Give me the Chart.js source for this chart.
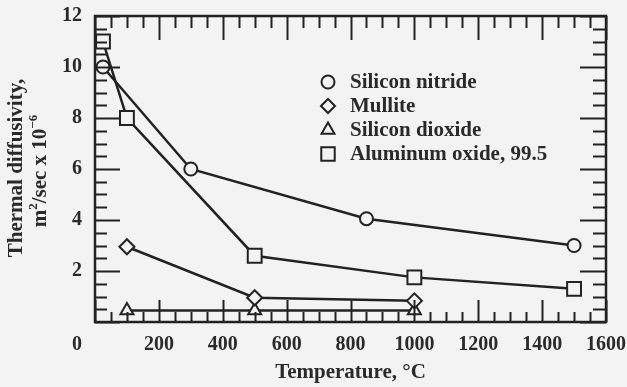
<!DOCTYPE html>
<html><head><meta charset="utf-8">
<script src="https://cdn.jsdelivr.net/npm/chart.js@4.4.1/dist/chart.umd.min.js"></script>
<style>html,body{margin:0;padding:0;background:#f3f3f3;}canvas{display:block}</style>
</head><body>
<canvas id="c" width="627" height="387"></canvas>
<script>
const seriesNames = ['Silicon nitride', 'Mullite', 'Silicon dioxide', 'Aluminum oxide, 99.5'];
const nitrideX = [25, 300, 850, 1500];
const nitrideY = [10, 6, 4.05, 3.0];
const mulliteX = [100, 500, 1000];
const mulliteY = [2.95, 0.95, 0.83];
const silicaX = [100, 500, 1000];
const silicaY = [0.45, 0.45, 0.45];
const aluminaX = [25, 100, 500, 1000, 1500];
const aluminaY = [11, 8, 2.6, 1.75, 1.3];
const xTicks = [0, 200, 400, 600, 800, 1000, 1200, 1400, 1600];
const yTicks = [0, 2, 4, 6, 8, 10, 12];
const xMinorStep = 50;
const yMinorStep = 0.5;

const BG = '#f3f3f3';
const INK = '#222222';
const TXT = '#2a2a2a';
const SERIF = '"Liberation Serif", "Times New Roman", serif';

function pts(xs, ys) { return xs.map((x, i) => ({x: x, y: ys[i]})); }
function ds(label, xs, ys, style, radius) {
  return {
    label: label, data: pts(xs, ys), pointStyle: style, pointRadius: radius,
    borderColor: INK, backgroundColor: BG, pointBackgroundColor: BG,
    pointBorderColor: INK, borderWidth: 2.5, pointBorderWidth: 2, tension: 0
  };
}

const framePlugin = {
  id: 'frame',
  beforeDraw(chart) {
    const {ctx} = chart;
    ctx.save();
    ctx.fillStyle = BG;
    ctx.fillRect(0, 0, chart.width, chart.height);
    ctx.restore();
  },
  afterDatasetsDraw(chart) {
    const {ctx, chartArea: a, scales: {x, y}} = chart;
    ctx.save();
    ctx.strokeStyle = INK;
    ctx.lineWidth = 2;
    ctx.beginPath();
    for (let v = 0; v <= 1600 + 1e-6; v += xMinorStep) {
      const px = Math.round(x.getPixelForValue(v)) + 0.5;
      const major = xTicks.includes(v);
      const lb = major ? 22 : 10;
      const lt = major ? 24 : 12;
      ctx.moveTo(px, a.bottom); ctx.lineTo(px, a.bottom - lb);
      ctx.moveTo(px, a.top); ctx.lineTo(px, a.top + lt);
    }
    for (let v = 0; v <= 12 + 1e-6; v += yMinorStep) {
      const py = Math.round(y.getPixelForValue(v)) + 0.5;
      const major = yTicks.includes(v);
      const ll = major ? 25 : 12;
      const lr = major ? 26 : 13;
      ctx.moveTo(a.left, py); ctx.lineTo(a.left + ll, py);
      ctx.moveTo(a.right, py); ctx.lineTo(a.right - lr, py);
    }
    ctx.stroke();
    ctx.lineWidth = 2.5;
    ctx.strokeRect(a.left, a.top, a.right - a.left, a.bottom - a.top);
    ctx.restore();
  },
  afterDraw(chart) {
    const {ctx, scales: {x}} = chart;
    ctx.save();
    // corner "0" label
    ctx.fillStyle = TXT;
    ctx.font = 'bold 20px ' + SERIF;
    ctx.textAlign = 'center';
    ctx.textBaseline = 'middle';
    ctx.fillText('0', x.getPixelForValue(0) - 18, 345);

    // y axis title (two lines, rotated)
    const drawRot = (cx, cy, parts) => {
      ctx.save();
      ctx.translate(cx, cy);
      ctx.rotate(-Math.PI / 2);
      let total = 0;
      parts.forEach(p => { ctx.font = p.font; total += ctx.measureText(p.t).width; });
      let xx = -total / 2;
      ctx.textAlign = 'left';
      ctx.textBaseline = 'middle';
      ctx.fillStyle = TXT;
      parts.forEach(p => {
        ctx.font = p.font;
        ctx.fillText(p.t, xx, p.dy || 0);
        xx += ctx.measureText(p.t).width;
      });
      ctx.restore();
    };
    const big = 'bold 21px ' + SERIF;
    const sup = 'bold 13px ' + SERIF;
    drawRot(17, 168, [{t: 'Thermal diffusivity,', font: big}]);
    drawRot(41, 171, [
      {t: 'm', font: big}, {t: '2', font: sup, dy: -7},
      {t: '/sec x 10', font: big}, {t: '\u22126', font: sup, dy: -7}
    ]);

    // legend
    const rows = [82, 106, 130, 154];
    const legRadii = [6.5, 7, 7.5, 9.5];
    chart.data.datasets.forEach((dset, i) => {
      ctx.fillStyle = BG;
      ctx.strokeStyle = INK;
      ctx.lineWidth = 2;
      Chart.helpers.drawPoint(ctx, {
        pointStyle: dset.pointStyle, radius: legRadii[i], borderWidth: 2, rotation: 0
      }, 328, rows[i]);
      ctx.fillStyle = TXT;
      ctx.font = 'bold 21px ' + SERIF;
      ctx.textAlign = 'left';
      ctx.textBaseline = 'middle';
      ctx.fillText(dset.label, 350, rows[i] + 1);
    });
    ctx.restore();
  }
};

new Chart(document.getElementById('c').getContext('2d'), {
  type: 'line',
  data: {
    datasets: [
      ds(seriesNames[0], nitrideX, nitrideY, 'circle', 6.5),
      ds(seriesNames[1], mulliteX, mulliteY, 'rectRot', 7.5),
      ds(seriesNames[2], silicaX, silicaY, 'triangle', 7.5),
      ds(seriesNames[3], aluminaX, aluminaY, 'rect', 9.8)
    ]
  },
  options: {
    responsive: false,
    animation: false,
    devicePixelRatio: 1,
    layout: {padding: {top: 16, right: 21, left: 0, bottom: 0}},
    plugins: {legend: {display: false}, tooltip: {enabled: false}},
    scales: {
      x: {
        type: 'linear', min: 0, max: 1600,
        afterBuildTicks: s => { s.ticks = xTicks.map(v => ({value: v})); },
        afterFit: s => { s.height = 65; s.paddingLeft = 0; s.paddingRight = 0; },
        grid: {display: false, drawTicks: false},
        border: {display: false},
        ticks: {
          padding: 11, color: TXT, maxRotation: 0, autoSkip: false,
          font: {family: SERIF, size: 20, weight: 'bold'},
          callback: v => (v === 0 ? '' : String(v))
        },
        title: {
          display: true, text: 'Temperature, \u00B0C', color: TXT,
          font: {family: SERIF, size: 21, weight: 'bold'},
          padding: {top: 0, bottom: 2}
        }
      },
      y: {
        type: 'linear', min: 0, max: 12,
        afterBuildTicks: s => { s.ticks = yTicks.map(v => ({value: v})); },
        afterFit: s => { s.width = 95; s.paddingTop = 0; s.paddingBottom = 0; },
        grid: {display: false, drawTicks: false},
        border: {display: false},
        ticks: {
          padding: 13, color: TXT, autoSkip: false,
          font: {family: SERIF, size: 20, weight: 'bold'},
          callback: v => (v === 0 ? '' : String(v))
        }
      }
    }
  },
  plugins: [framePlugin]
});
</script>
</body></html>
